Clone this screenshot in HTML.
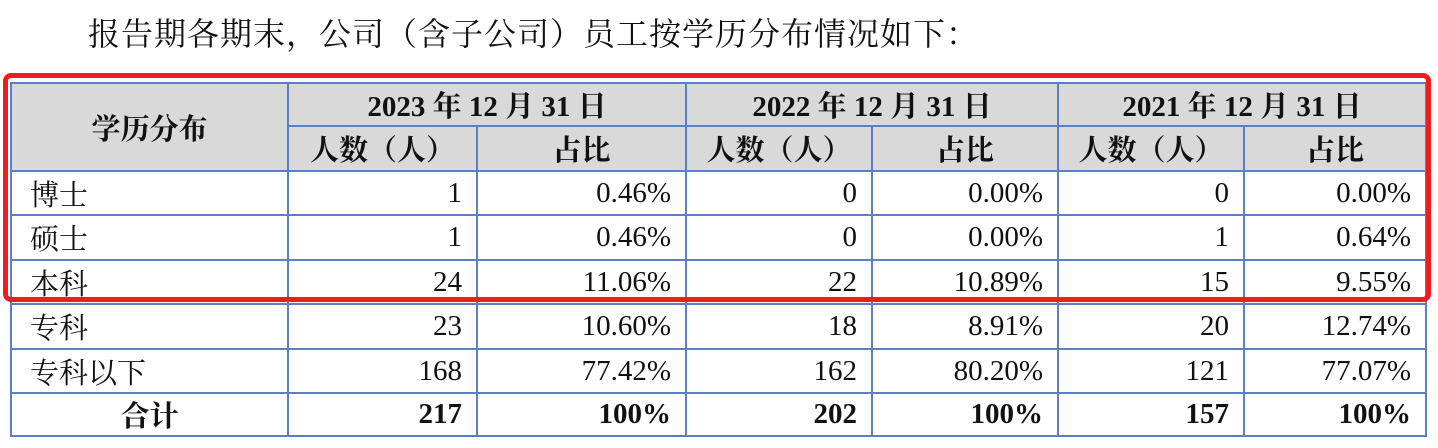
<!DOCTYPE html>
<html><head><meta charset="utf-8"><style>
body{margin:0;width:1438px;height:448px;background:#fff;position:relative;overflow:hidden;font-family:"Liberation Serif","Noto Serif CJK SC",serif;color:#111;}
.title{position:absolute;left:88px;top:12px;font-size:32px;line-height:44px;white-space:nowrap;letter-spacing:1px;}
table{position:absolute;left:10px;top:82px;border-collapse:collapse;table-layout:fixed;width:1415px;}
td{border:2px solid #5b7fc0;font-size:29px;padding:0 14px 0 18px;white-space:nowrap;overflow:hidden;}
.h td{background:#d9d9d9;font-weight:bold;text-align:center;padding:0;}
.r{text-align:right;}
.b td{font-weight:bold;}
.red{position:absolute;left:3px;top:73px;width:1418px;height:219px;border:5px solid #f21c1c;border-radius:8px;}
</style></head><body>
<div class="title">报告期各期末，公司（含子公司）员工按学历分布情况如下：</div>
<table>
<colgroup><col style="width:277px"><col style="width:189px"><col style="width:209px"><col style="width:186px"><col style="width:186px"><col style="width:186px"><col style="width:182px"></colgroup>
<tr class="h" style="height:41px"><td rowspan="2">学历分布</td><td colspan="2">2023 年 12 月 31 日</td><td colspan="2">2022 年 12 月 31 日</td><td colspan="2">2021 年 12 月 31 日</td></tr>
<tr class="h" style="height:45px"><td>人数（人）</td><td>占比</td><td>人数（人）</td><td>占比</td><td>人数（人）</td><td>占比</td></tr>
<tr style="height:44px"><td>博士</td><td class="r">1</td><td class="r">0.46%</td><td class="r">0</td><td class="r">0.00%</td><td class="r">0</td><td class="r">0.00%</td></tr>
<tr style="height:45px"><td>硕士</td><td class="r">1</td><td class="r">0.46%</td><td class="r">0</td><td class="r">0.00%</td><td class="r">1</td><td class="r">0.64%</td></tr>
<tr style="height:44px"><td>本科</td><td class="r">24</td><td class="r">11.06%</td><td class="r">22</td><td class="r">10.89%</td><td class="r">15</td><td class="r">9.55%</td></tr>
<tr style="height:45px"><td>专科</td><td class="r">23</td><td class="r">10.60%</td><td class="r">18</td><td class="r">8.91%</td><td class="r">20</td><td class="r">12.74%</td></tr>
<tr style="height:44px"><td>专科以下</td><td class="r">168</td><td class="r">77.42%</td><td class="r">162</td><td class="r">80.20%</td><td class="r">121</td><td class="r">77.07%</td></tr>
<tr class="b" style="height:43px"><td style="text-align:center;padding:0">合计</td><td class="r">217</td><td class="r">100%</td><td class="r">202</td><td class="r">100%</td><td class="r">157</td><td class="r">100%</td></tr>
</table>
<div class="red"></div>
</body></html>
